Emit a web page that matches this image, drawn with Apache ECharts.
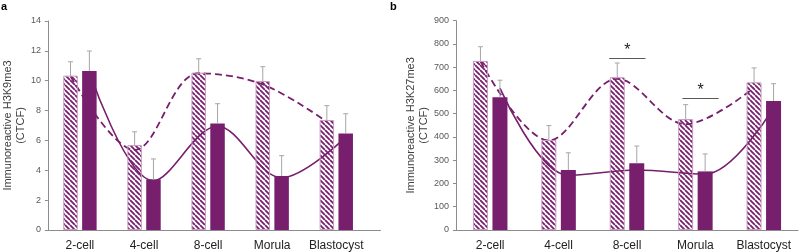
<!DOCTYPE html>
<html>
<head>
<meta charset="utf-8">
<script src="https://cdn.jsdelivr.net/npm/echarts@6/dist/echarts.min.js"></script>
<style>
  html, body { margin: 0; padding: 0; background: #fff; }
  #main { width: 799px; height: 252px; }
</style>
</head>
<body>
<div id="main"></div>
<script>
// stages on the x axis
var stages = ['2-cell', '4-cell', '8-cell', 'Morula', 'Blastocyst'];

// panel a - H3K9me3 (CTCF)
var k9Hatched = [10.34, 5.69, 10.54, 9.98, 7.37];
var k9HatchedErr = [0.93, 0.89, 0.93, 0.96, 0.96];
var k9Solid = [10.65, 3.39, 7.14, 3.62, 6.47];
var k9SolidErr = [1.34, 1.37, 1.32, 1.36, 1.32];
// trend curves, read where they cross each bar centre
var k9TrendDashed = [10.3, 5.36, 10.5, 9.75, 7.25];
var k9TrendSolid = [10.6, 3.3, 6.95, 3.5, 6.2];
var k9Ticks = [0, 14, 2];

// panel b - H3K27me3 (CTCF)
var k27Hatched = [727, 387, 657, 477, 635];
var k27HatchedErr = [61, 62, 61, 62, 62];
var k27Solid = [571, 258, 287, 252, 555];
var k27SolidErr = [73, 74, 74, 75, 74];
var k27TrendDashed = [725, 385, 650, 455, 612];
var k27TrendSolid = [610, 235, 258, 240, 525];
var k27Ticks = [0, 900, 100];
// significance bars: [from stage, to stage, height]
var k27Sig = [[1.74, 2.27, 738], [2.81, 3.34, 566]];

var purple = '#771f6d';
var axisGrey = '#8c8c8c';
var font = 'Liberation Sans, Arial, sans-serif';

// diagonal hatch "\\\" with transparent gaps
function makeHatch() {
    var s = 5;
    var c = document.createElement('canvas');
    c.width = s; c.height = s;
    var ctx = c.getContext('2d');
    ctx.strokeStyle = purple;
    ctx.lineWidth = 1.8;
    ctx.beginPath();
    for (var k = -1; k <= 1; k++) {
        ctx.moveTo(k * s, 0);
        ctx.lineTo(k * s + s, s);
    }
    ctx.stroke();
    return c;
}
var hatch = { image: makeHatch(), repeat: 'repeat' };

// layout of the two panels
var panels = [
    { left: 45.5, top: 21, width: 335, height: 209, xmax: 4.69, barW: 14.5,
      name: 'Immunoreactive H3K9me3\n(CTCF)', nameGap: 20, ticks: k9Ticks,
      hatched: k9Hatched, hatchedErr: k9HatchedErr, solid: k9Solid, solidErr: k9SolidErr,
      trendD: k9TrendDashed, trendS: k9TrendSolid, sig: [] },
    { left: 456, top: 20.7, width: 342, height: 209.3, xmax: 4.5, barW: 15,
      name: 'Immunoreactive H3K27me3\n(CTCF)', nameGap: 25, ticks: k27Ticks,
      hatched: k27Hatched, hatchedErr: k27HatchedErr, solid: k27Solid, solidErr: k27SolidErr,
      trendD: k27TrendDashed, trendS: k27TrendSolid, sig: k27Sig }
];

var grids = [], xAxes = [], yAxes = [], series = [];

panels.forEach(function (p, gi) {
    var pxPerUnit = p.width / (p.xmax + 0.5);
    var shiftPx = p.barW * 1.3 / 2;          // half bar + half gap
    var shift = shiftPx / pxPerUnit;

    grids.push({ left: p.left, top: p.top, width: p.width, height: p.height });
    xAxes.push({
        type: 'value', gridIndex: gi, min: -0.5, max: p.xmax,
        splitLine: { show: false },
        axisTick: { show: false },
        axisLine: { lineStyle: { color: axisGrey, width: 1 } },
        axisLabel: {
            customValues: [0, 1, 2, 3, 4],
            formatter: function (v) { return stages[Math.round(v)]; },
            fontSize: 12, color: '#222', fontFamily: font, margin: 10
        }
    });
    yAxes.push({
        type: 'value', gridIndex: gi, min: p.ticks[0], max: p.ticks[1], interval: p.ticks[2],
        axisLine: { show: true, onZero: false, lineStyle: { color: axisGrey } },
        axisTick: { show: true, length: 3, lineStyle: { color: axisGrey } },
        splitLine: { show: false },
        axisLabel: { fontSize: 9, color: '#595959', fontFamily: font, margin: 7 },
        name: p.name, nameLocation: 'middle', nameRotate: 90, nameGap: p.nameGap,
        nameTextStyle: { fontSize: 11, lineHeight: 13, color: '#404040', fontFamily: font }
    });

    // trend curves (behind the bars)
    series.push({
        type: 'line', xAxisIndex: gi, yAxisIndex: gi, z: 1, smooth: 0.35,
        symbol: 'none', silent: true,
        lineStyle: { color: purple, width: 1.8, type: [7, 4] },
        data: p.trendD.map(function (v, i) { return [i - shift, v]; })
    });
    series.push({
        type: 'line', xAxisIndex: gi, yAxisIndex: gi, z: 1, smooth: 0.35,
        symbol: 'none', silent: true,
        lineStyle: { color: purple, width: 1.6 },
        data: p.trendS.map(function (v, i) { return [i + shift, v]; })
    });

    // bars
    series.push({
        type: 'bar', xAxisIndex: gi, yAxisIndex: gi, z: 2, barWidth: p.barW,
        itemStyle: { color: hatch, borderColor: '#c99cc3', borderWidth: 1 },
        data: p.hatched.map(function (v, i) { return [i, v]; })
    });
    series.push({
        type: 'bar', xAxisIndex: gi, yAxisIndex: gi, z: 2, barWidth: p.barW, barGap: '30%',
        itemStyle: { color: purple },
        data: p.solid.map(function (v, i) { return [i, v]; })
    });

    // error bars
    [[p.hatched, p.hatchedErr, -1], [p.solid, p.solidErr, 1]].forEach(function (s) {
        series.push({
            type: 'custom', xAxisIndex: gi, yAxisIndex: gi, z: 3, silent: true,
            data: s[0].map(function (v, i) { return [i, v, s[1][i]]; }),
            encode: { x: 0, y: 1 },
            renderItem: function (params, api) {
                var base = api.coord([api.value(0), api.value(1)]);
                var top = api.coord([api.value(0), api.value(1) + api.value(2)]);
                var x = base[0] + s[2] * shiftPx;
                var st = { stroke: '#a6a6a6', lineWidth: 1 };
                return { type: 'group', children: [
                    { type: 'line', shape: { x1: x, y1: base[1], x2: x, y2: top[1] }, style: st },
                    { type: 'line', shape: { x1: x - 2.5, y1: top[1], x2: x + 2.5, y2: top[1] }, style: st }
                ] };
            }
        });
    });

    // significance marks
    if (p.sig.length) {
        series.push({
            type: 'line', xAxisIndex: gi, yAxisIndex: gi, data: [], z: 4,
            markLine: {
                silent: true, symbol: 'none',
                lineStyle: { color: '#595959', width: 1, type: 'solid' },
                label: { show: true, position: 'middle', formatter: '*', fontSize: 16,
                         color: '#222', fontFamily: font, distance: 0 },
                data: p.sig.map(function (s) {
                    return [{ coord: [s[0], s[2]] }, { coord: [s[1], s[2]] }];
                })
            }
        });
    }
});

var chart = echarts.init(document.getElementById('main'));
chart.setOption({
    animation: false,
    grid: grids,
    xAxis: xAxes,
    yAxis: yAxes,
    graphic: [
        { type: 'text', left: 1, top: 1, style: { text: 'a', font: 'bold 11px ' + font, fill: '#000' } },
        { type: 'text', left: 390, top: 1, style: { text: 'b', font: 'bold 11px ' + font, fill: '#000' } }
    ],
    series: series
});
</script>
</body>
</html>
